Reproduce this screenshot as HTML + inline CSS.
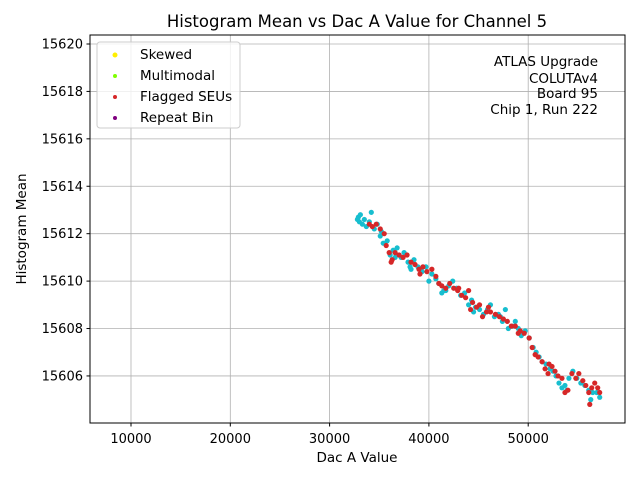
<!DOCTYPE html>
<html><head><meta charset="utf-8"><style>
body{margin:0;background:#fff;font-family:"Liberation Sans","DejaVu Sans",sans-serif}
svg text{font-family:"DejaVu Sans","Liberation Sans",sans-serif;fill:#000}
</style></head><body>
<svg id="chart" width="640" height="480" xmlns="http://www.w3.org/2000/svg">
<rect width="640" height="480" fill="#fff"/>
<text x="357" y="27" font-size="16.5" text-anchor="middle">Histogram Mean vs Dac A Value for Channel 5</text>
<g id="grid"></g>
<g id="points"></g>
<rect x="90" y="35" width="535" height="388" fill="none" stroke="#000" stroke-width="1"/>
<g id="ticks"></g>
<text x="357" y="462" font-size="13.5" text-anchor="middle">Dac A Value</text>
<text transform="translate(26,229) rotate(-90)" font-size="13.5" text-anchor="middle">Histogram Mean</text>
<g font-size="13.5" text-anchor="end">
<text x="598" y="66">ATLAS Upgrade</text>
<text x="598" y="83">COLUTAv4</text>
<text x="598" y="98">Board 95</text>
<text x="598" y="114">Chip 1, Run 222</text>
</g>
<g>
<rect x="97" y="42" width="143" height="86" rx="3" fill="#fff" fill-opacity="0.8" stroke="#ccc"/>
<circle cx="115" cy="55" r="2.5" fill="#ffef00"/>
<text x="140" y="59" font-size="13.5">Skewed</text>
<circle cx="115" cy="76" r="2" fill="#7fff00"/>
<text x="140" y="80" font-size="13.5">Multimodal</text>
<circle cx="115" cy="97" r="2" fill="#d62728"/>
<text x="140" y="101" font-size="13.5">Flagged SEUs</text>
<circle cx="115" cy="118" r="2" fill="#800080"/>
<text x="140" y="122" font-size="13.5">Repeat Bin</text>
</g>
</svg>
<script>
const xTicks=[10000,20000,30000,40000,50000];
const yTicks=[15606,15608,15610,15612,15614,15616,15618,15620];
const cyanX=[32900,33000,32800,33100,33300,33500,33700,34000,34200,34500,34800,35100,35400,35800,36100,36400,36800,37200,37500,37900,38200,38500,38900,39300,39700,40000,40300,40700,41000,41300,41700,42000,42400,42800,43200,43600,44000,44300,44700,45100,45500,45900,46200,46600,47000,47400,47700,48000,48400,48700,49000,49300,49700,50100,50500,50800,51100,51400,51800,52200,52500,52800,53100,53400,53700,54100,54500,54900,55300,55700,56100,56500,56900,57200,56300,53900,47200,44500,41500,38100,35200,36600];
const cyanY=[15612.7,15612.5,15612.6,15612.8,15612.4,15612.6,15612.3,15612.5,15612.9,15612.2,15612.4,15611.9,15611.6,15611.7,15611.1,15611.3,15611.4,15611.0,15611.2,15610.8,15610.5,15610.9,15610.6,15610.4,15610.6,15610.0,15610.3,15610.1,15609.9,15609.5,15609.6,15609.8,15610.0,15609.7,15609.4,15609.5,15609.0,15609.2,15608.9,15608.8,15608.6,15608.8,15609.0,15608.5,15608.6,15608.3,15608.8,15608.0,15608.1,15608.3,15608.0,15607.7,15607.9,15607.6,15607.2,15607.0,15606.8,15606.6,15606.5,15606.3,15606.2,15606.0,15605.7,15605.5,15605.6,15605.9,15606.2,15605.9,15605.7,15605.6,15605.4,15605.3,15605.3,15605.1,15605.0,15605.4,15608.5,15608.7,15609.6,15610.6,15612.1,15611.0];
const redX=[34000,34300,34700,35100,35500,35700,36000,36300,36600,37000,37400,37800,38200,38600,39000,39400,39800,40300,40700,41000,41300,41700,42100,42500,42900,43300,43700,44000,44400,44800,45100,45400,45800,46200,46700,47100,47500,47900,48300,48700,49200,49600,50100,50400,50700,51000,51400,51700,52100,52400,52700,53000,53400,53700,54000,54400,54800,55100,55500,55800,56100,56400,56700,57000,57200,56200,46000,43000,39100,36200,44200,52000,49000];
const redY=[15612.4,15612.3,15612.4,15612.2,15612.0,15611.5,15611.2,15610.9,15611.2,15611.1,15611.0,15611.1,15610.8,15610.7,15610.5,15610.6,15610.4,15610.5,15610.2,15609.9,15609.8,15609.7,15609.9,15609.7,15609.6,15609.4,15609.3,15609.6,15609.1,15608.9,15609.0,15608.5,15608.7,15608.7,15608.6,15608.5,15608.4,15608.3,15608.1,15608.1,15607.9,15607.8,15607.6,15607.2,15606.9,15606.8,15606.6,15606.3,15606.5,15606.4,15606.2,15606.0,15605.9,15605.3,15605.4,15606.1,15605.9,15606.1,15605.8,15605.6,15605.3,15605.5,15605.7,15605.5,15605.3,15604.8,15608.9,15609.7,15610.3,15610.8,15608.8,15606.1,15607.8];
const NS="http://www.w3.org/2000/svg";
function sx(v){return 31.7+v*0.00993;}
function sy(v){return 44+(15620-v)*23.71;}
const grid=document.getElementById('grid'),ticks=document.getElementById('ticks'),pts=document.getElementById('points');
function mk(tag,attrs,parent){const e=document.createElementNS(NS,tag);for(const k in attrs)e.setAttribute(k,attrs[k]);parent.appendChild(e);return e;}
xTicks.forEach(t=>{const x=sx(t);
 const g=mk('line',{x1:x,x2:x,y1:35,y2:423,stroke:'#b0b0b0','stroke-width':0.8},grid);
 
 
 mk('line',{x1:x,x2:x,y1:423,y2:426.5,stroke:'#000'},ticks);
 const tx=mk('text',{x:x,y:443,'font-size':13,'text-anchor':'middle'},ticks);tx.textContent=t;
 
 
});
yTicks.forEach(t=>{const y=sy(t);
 const g=mk('line',{x1:90,x2:625,y1:y,y2:y,stroke:'#b0b0b0','stroke-width':0.8},grid);
 
 
 mk('line',{x1:86.5,x2:90,y1:y,y2:y,stroke:'#000'},ticks);
 const tx=mk('text',{x:83,y:y+4.5,'font-size':13,'text-anchor':'end'},ticks);tx.textContent=t;
 
 
});
cyanX.forEach((v,i)=>{const c=mk('circle',{cx:sx(v),cy:sy(cyanY[i]),r:2.6,fill:'#17becf'},pts);
 
 });
redX.forEach((v,i)=>{const c=mk('circle',{cx:sx(v),cy:sy(redY[i]),r:2.6,fill:'#d62728'},pts);
 
 });
</script>
</body></html>
